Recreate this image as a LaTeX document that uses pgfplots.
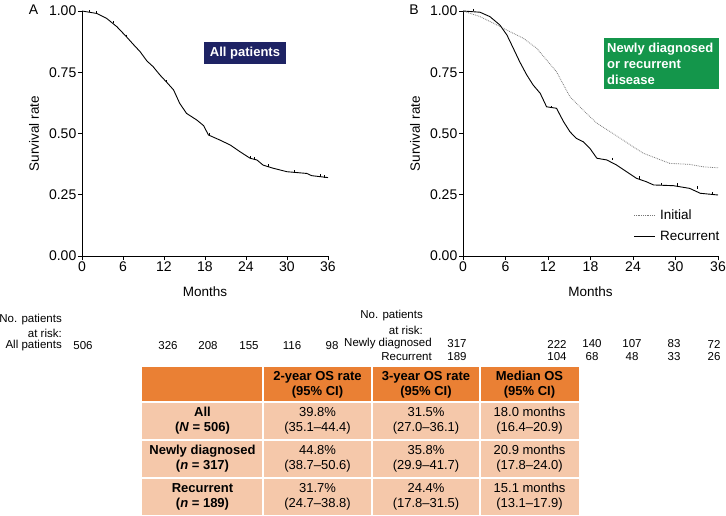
\documentclass[border=0pt]{standalone}
\usepackage{pgfplots}
\pgfplotsset{compat=1.18}
\usepackage{fontspec}
\setmainfont{Liberation Sans}
\definecolor{navybox}{RGB}{30,35,100}
\definecolor{greenbox}{RGB}{20,150,75}
\definecolor{hdr}{RGB}{234,128,52}
\definecolor{cell}{RGB}{245,200,170}
\definecolor{initgray}{RGB}{120,120,120}
\pgfplotsset{km/.style={
  scale only axis, xmin=0, xmax=36, ymin=0, ymax=1,
  axis lines*=left, axis line style={line width=0.8pt},
  xtick={0,6,...,36}, ytick={0,0.25,0.5,0.75,1},
  tick align=outside, major tick length=4pt,
  tick style={black, line width=0.8pt},
  tick label style={font=\fontsize{14}{16}\selectfont, inner sep=1.5pt},
  /pgf/number format/assume math mode=true,
  yticklabel style={/pgf/number format/.cd, fixed, fixed zerofill, precision=2},
  xlabel=Months, ylabel=Survival rate,
  label style={font=\fontsize{13.5}{16}\selectfont},
  xlabel style={at={(axis description cs:0.5,-0.147)}, anchor=center},
  clip=false,
}}
\begin{document}
\begin{tikzpicture}[x=1pt,y=1pt]
\path[use as bounding box] (0,0) rectangle (726,-516);
% Panel A
\begin{axis}[km, at={(82pt,-256pt)}, anchor=south west, width=246pt, height=245pt,
  ylabel style={at={(axis description cs:-0.195,0.5)}, anchor=center}]
\addplot[black, line width=0.9pt] coordinates {
(0,1.0) (2.15,0.99) (3.6,0.97) (5.1,0.936) (6.5,0.895) (7.5,0.864) (8.5,0.834)
(9.5,0.796) (10.4,0.773) (11.4,0.739) (12.4,0.709) (13.4,0.678) (14.3,0.623)
(15.3,0.582) (16.8,0.555) (17.8,0.532) (18.5,0.494) (20.2,0.473) (21.7,0.453)
(23.1,0.426) (24.6,0.399) (25.6,0.392) (26.5,0.371) (28.0,0.358) (30.0,0.344)
(32.9,0.337) (33.6,0.328) (36,0.320)};
\addplot[black, only marks, mark=|, mark size=1.2pt, mark options={line width=0.5pt, yshift=1pt}] coordinates {
(1.0,0.995) (2.15,0.99) (4.6,0.95) (6.5,0.895) (12.4,0.709) (18.6,0.494) (24.6,0.399) (25.2,0.395) (27.3,0.365) (31.0,0.341) (34.8,0.324) (35.5,0.321)};
\end{axis}
% Panel B
\begin{axis}[km, at={(463pt,-256pt)}, anchor=south west, width=255pt, height=245pt,
  ylabel style={at={(axis description cs:-0.188,0.5)}, anchor=center}]
\addplot[initgray, densely dotted, line width=0.8pt] coordinates {
(0,1.0) (2.4,0.977) (4.8,0.943) (6.6,0.916) (8.5,0.889) (10.4,0.848) (11.8,0.80)
(13.2,0.752) (14.2,0.698) (15.1,0.65) (16.5,0.609) (17.9,0.569) (18.9,0.542)
(20.8,0.507) (22.6,0.473) (24.0,0.446) (25.5,0.419) (27.3,0.399) (29.2,0.378)
(32.0,0.374) (33.9,0.364) (36,0.36)};
\addplot[black, line width=0.9pt] coordinates {
(0,1.0) (2.4,0.995) (3.8,0.977) (5.2,0.943) (6.2,0.902) (7.1,0.848) (8.0,0.793)
(9.0,0.739) (9.9,0.698) (10.9,0.664) (11.8,0.609) (13.2,0.603) (14.2,0.548)
(15.1,0.507) (16.0,0.48) (17.0,0.466) (17.9,0.44) (18.9,0.399) (20.3,0.392)
(21.7,0.371) (23.1,0.344) (24.5,0.317) (25.9,0.303) (26.9,0.29) (29.7,0.287)
(32.0,0.276) (33.5,0.256) (36,0.249)};
\addplot[black, only marks, mark=|, mark size=1.2pt, mark options={line width=0.5pt, yshift=1pt}] coordinates {
(1.5,1.0) (12.5,0.603) (21.0,0.392) (24.9,0.317) (28.0,0.289) (30.3,0.287) (33.0,0.276) (35.2,0.252)};
\end{axis}
% legend of panel B
\draw[initgray, densely dotted, line width=0.8pt] (634,-215) -- (655,-215);
\draw[black, line width=0.9pt] (634,-236) -- (655,-236);
\node[anchor=west, inner sep=0pt, font=\fontsize{13.5}{15}\selectfont] at (660,-215) {Initial};
\node[anchor=west, inner sep=0pt, font=\fontsize{13.5}{15}\selectfont] at (660,-236) {Recurrent};
% panel letters
\node[font=\fontsize{14}{16}\selectfont] at (33.5,-9.5) {A};
\node[font=\fontsize{14}{16}\selectfont] at (414,-9.5) {B};
% boxes
\node[fill=navybox, text=white, font=\bfseries\fontsize{13}{15}\selectfont, minimum width=82pt, minimum height=22pt, inner sep=0pt] at (245,-53) {All patients};
\fill[greenbox] (604,-38) rectangle (719,-89);
\node[anchor=west, text=white, align=left, font=\bfseries\fontsize{13}{16}\selectfont, inner sep=0pt] at (607,-63.5) {Newly diagnosed\\or recurrent\\disease};
% risk tables
\begin{scope}[every node/.style={font=\fontsize{11.5}{13}\selectfont, inner sep=0pt}]
\node[anchor=east] at (62,-320) {No. patients};
\node[anchor=east] at (62,-333) {at risk:};
\node[anchor=east] at (62,-346) {All patients};
\foreach \xx/\vv in {83/506,168/326,208/208,249/155,292/116,332/98} {\node at (\xx,-346) {\vv};}
\node[anchor=east] at (423,-316) {No. patients};
\node[anchor=east] at (423,-330) {at risk:};
\node[anchor=east] at (432,-344) {Newly diagnosed};
\node[anchor=east] at (432,-357) {Recurrent};
\foreach \xx/\vv in {457/317,557/222,592/140,632/107,674/83,714/72} {\node at (\xx,-344) {\vv};}
\foreach \xx/\vv in {457/189,557/104,592/68,632/48,674/33,714/26} {\node at (\xx,-357) {\vv};}
\end{scope}
% summary table
\fill[hdr] (142,-367) rectangle (579,-402);
\fill[cell] (142,-402) rectangle (579,-515);
\draw[white, line width=1.5pt] (263,-367) -- (263,-515) (372,-367) -- (372,-515) (480,-367) -- (480,-515);
\draw[white, line width=1.5pt] (142,-402) -- (579,-402) (142,-440) -- (579,-440) (142,-478) -- (579,-478);
\begin{scope}[every node/.style={font=\fontsize{13}{15}\selectfont, align=center, inner sep=0pt}]
\node[font=\bfseries\fontsize{13}{15}\selectfont] at (317.5,-384.5) {2-year OS rate\\(95\% CI)};
\node[font=\bfseries\fontsize{13}{15}\selectfont] at (426,-384.5) {3-year OS rate\\(95\% CI)};
\node[font=\bfseries\fontsize{13}{15}\selectfont] at (529.5,-384.5) {Median OS\\(95\% CI)};
\node[font=\bfseries\fontsize{13}{15}\selectfont] at (202.5,-421) {All\\(\textit{N} = 506)};
\node[font=\bfseries\fontsize{13}{15}\selectfont] at (202.5,-459) {Newly diagnosed\\(\textit{n} = 317)};
\node[font=\bfseries\fontsize{13}{15}\selectfont] at (202.5,-496.5) {Recurrent\\(\textit{n} = 189)};
\node at (317.5,-421) {39.8\%\\(35.1--44.4)};
\node at (426,-421) {31.5\%\\(27.0--36.1)};
\node at (529.5,-421) {18.0 months\\(16.4--20.9)};
\node at (317.5,-459) {44.8\%\\(38.7--50.6)};
\node at (426,-459) {35.8\%\\(29.9--41.7)};
\node at (529.5,-459) {20.9 months\\(17.8--24.0)};
\node at (317.5,-496.5) {31.7\%\\(24.7--38.8)};
\node at (426,-496.5) {24.4\%\\(17.8--31.5)};
\node at (529.5,-496.5) {15.1 months\\(13.1--17.9)};
\end{scope}
\end{tikzpicture}
\end{document}
